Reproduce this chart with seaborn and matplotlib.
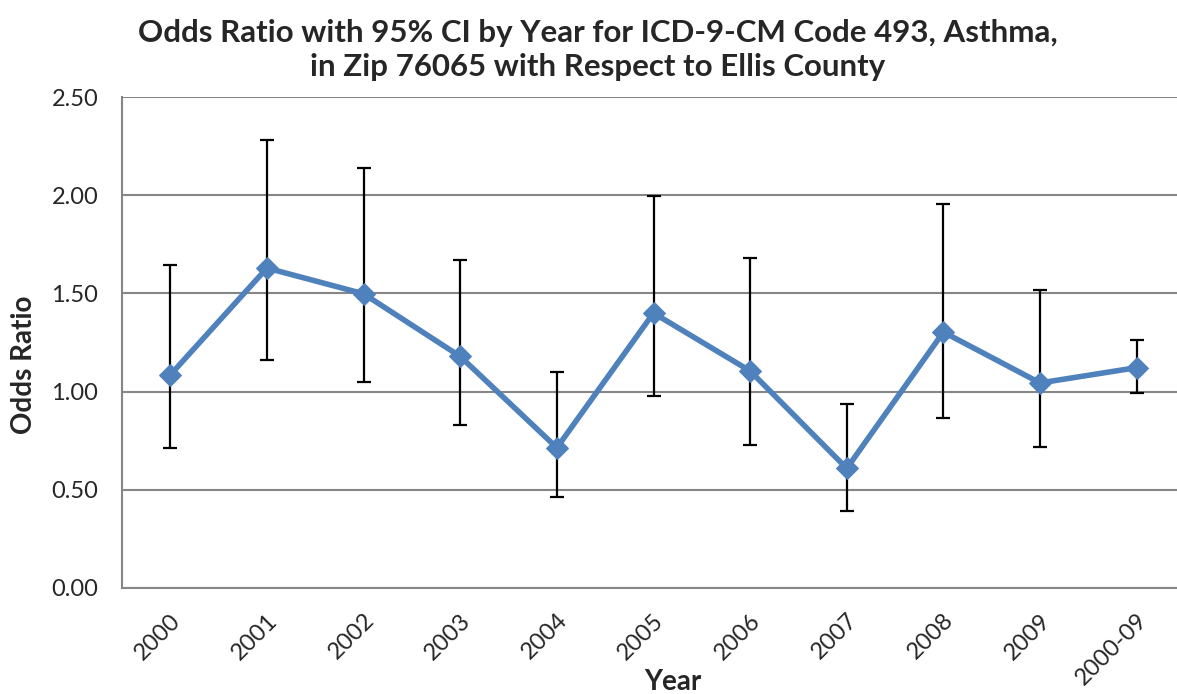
import matplotlib
matplotlib.use("Agg")
import matplotlib.pyplot as plt
import seaborn as sns
import pandas as pd
import numpy as np

years = ["2000", "2001", "2002", "2003", "2004", "2005", "2006", "2007", "2008", "2009", "2000-09"]
odds_ratio = [1.085, 1.629, 1.498, 1.179, 0.714, 1.400, 1.105, 0.609, 1.303, 1.044, 1.122]
ci_upper = [1.643, 2.281, 2.139, 1.670, 1.099, 1.997, 1.679, 0.939, 1.957, 1.515, 1.265]
ci_lower = [0.714, 1.160, 1.048, 0.830, 0.463, 0.978, 0.728, 0.393, 0.864, 0.718, 0.993]

sns.set_style("white")
plt.rcParams['font.family'] = ['Lato', 'DejaVu Sans']

W, H = 1177, 694
fig = plt.figure(figsize=(W / 100, H / 100), dpi=100)
ax_left, ax_right, ax_top, ax_bottom = 122, 1185, 97, 588
ax = fig.add_axes([ax_left / W, 1 - ax_bottom / H, (ax_right - ax_left) / W, (ax_bottom - ax_top) / H])

df = pd.DataFrame({"Year": years, "OR": odds_ratio, "lo": ci_lower, "hi": ci_upper})
df["x"] = np.arange(len(df))

color = "#4F81BD"
yerr = [df["OR"] - df["lo"], df["hi"] - df["OR"]]
ax.errorbar(df["x"], df["OR"], yerr=yerr, fmt="none", ecolor="black",
            elinewidth=1.6, capsize=5, capthick=1.6, zorder=2)
sns.lineplot(data=df, x="x", y="OR", ax=ax, color=color, linewidth=4,
             marker="D", markersize=11, markeredgecolor=color, zorder=3)
ax.set_xlabel("")
ax.set_ylabel("")

ax.set_xlim(-0.5, len(years) - 0.5)
ax.set_ylim(0, 2.5)
yt = np.arange(0, 2.51, 0.5)
ax.set_yticks(yt)
ax.set_yticklabels([f"{v:.2f}" for v in yt], fontsize=17)
ax.yaxis.grid(True, color="#868686", linewidth=1.5)
ax.set_axisbelow(True)

ax.set_xticks(df["x"])
ax.set_xticklabels(years, rotation=45, ha="right", va="center", rotation_mode="anchor", fontsize=17)
ax.set_xticks(np.arange(-0.5, len(years) + 0.5, 1), minor=True)
ax.tick_params(axis="x", which="major", length=0, pad=21)
ax.tick_params(axis="x", which="minor", length=8, width=1.5, color="#868686", direction="out")
ax.tick_params(axis="y", which="major", length=7, width=1.5, color="#868686", direction="out", pad=10)
for lbl in ax.get_xticklabels():
    lbl.set_transform(lbl.get_transform() + matplotlib.transforms.ScaledTranslation(7 / 100, 0, fig.dpi_scale_trans))

for s in ["top", "right"]:
    ax.spines[s].set_visible(False)
for s in ["left", "bottom"]:
    ax.spines[s].set_color("#868686")
    ax.spines[s].set_linewidth(1.5)

fig.text(673 / W, 1 - 682 / H, "Year", ha="center", va="center", fontsize=20, fontweight="bold")
fig.text(24 / W, 1 - 365 / H, "Odds Ratio", ha="center", va="center", rotation=90,
         fontsize=20, fontweight="bold")

fig.text(598 / W, 1 - 50 / H,
         "Odds Ratio with 95% CI by Year for ICD-9-CM Code 493, Asthma,\nin Zip 76065 with Respect to Ellis County",
         ha="center", va="center", fontsize=22.5, fontweight="bold", linespacing=1.3)

fig.savefig("out.png", dpi=100)
